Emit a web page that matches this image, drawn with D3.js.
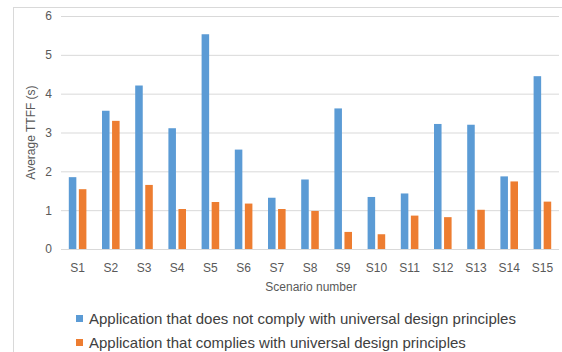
<!DOCTYPE html>
<html>
<head>
<meta charset="utf-8">
<script src="https://cdn.jsdelivr.net/npm/d3@7"></script>
<style>
  body { margin: 0; background: #fff; }
  svg { display: block; font-family: "Liberation Sans", "DejaVu Sans", sans-serif; }
  .tick text { fill: #595959; font-size: 12px; }
</style>
</head>
<body>
<div id="chart"></div>
<script>
// scenarios and the two series (average TTFF in seconds)
const scenarios = ["S1", "S2", "S3", "S4", "S5", "S6", "S7", "S8", "S9", "S10", "S11", "S12", "S13", "S14", "S15"];
const seriesNames = [
    "Application that does not comply with universal design principles",
    "Application that complies with universal design principles"
];
const notComply = [1.85, 3.56, 4.21, 3.11, 5.53, 2.56, 1.32, 1.79, 3.62, 1.34, 1.43, 3.22, 3.20, 1.87, 4.45];
const comply = [1.54, 3.30, 1.65, 1.03, 1.21, 1.17, 1.03, 0.98, 0.44, 0.38, 0.86, 0.82, 1.01, 1.74, 1.22];
const yTicks = [0, 1, 2, 3, 4, 5, 6];
const colors = ["#5b9bd5", "#ed7d31"];

const W = 562, H = 352;
const margins = { top: 16, right: 3, bottom: 103, left: 61 };
const width = W - margins.left - margins.right;
const height = H - margins.top - margins.bottom;

const data = scenarios.map((s, i) => ({ scenario: s, values: [notComply[i], comply[i]] }));

const svg = d3.select("#chart").append("svg")
    .attr("width", W)
    .attr("height", H);

// chart frame (cut off at right/bottom like the reference)
svg.append("rect")
    .attr("x", 13.5).attr("y", 7.5)
    .attr("width", 700).attr("height", 500)
    .attr("fill", "none")
    .attr("stroke", "#d9d9d9");

const g = svg.append("g")
    .attr("transform", `translate(${margins.left}, ${margins.top})`);

const xScale = d3.scaleBand().domain(scenarios).range([0, width]).paddingInner(0.47).paddingOuter(0.235);
const xSub = d3.scaleBand().domain([0, 1]).range([0, xScale.bandwidth()]).paddingInner(0.25);
const yScale = d3.scaleLinear().domain([0, 6]).range([height, 0]);

// gridlines + y labels
g.append("g")
    .attr("class", "y-axis")
    .call(d3.axisLeft(yScale).tickValues(yTicks).tickSize(-width).tickPadding(9).tickFormat(d3.format("d")))
    .call(a => a.select(".domain").remove())
    .call(a => a.selectAll("line").attr("stroke", "#d9d9d9"));

// x labels
g.append("g")
    .attr("class", "x-axis")
    .attr("transform", `translate(0, ${height})`)
    .call(d3.axisBottom(xScale).tickSize(0).tickPadding(14))
    .call(a => a.select(".domain").remove());

// bars
const groups = g.selectAll("g.group")
    .data(data)
    .enter().append("g")
    .attr("class", "group")
    .attr("transform", d => `translate(${xScale(d.scenario)}, 0)`);

groups.selectAll("rect")
    .data(d => d.values.map((v, i) => ({ i: i, v: v })))
    .enter().append("rect")
    .attr("x", d => xSub(d.i))
    .attr("y", d => yScale(d.v))
    .attr("width", xSub.bandwidth())
    .attr("height", d => height - yScale(d.v))
    .attr("fill", d => colors[d.i]);

// axis titles
svg.append("text")
    .attr("transform", `translate(35, ${margins.top + height / 2}) rotate(-90)`)
    .attr("text-anchor", "middle")
    .attr("fill", "#595959")
    .style("font-size", "12px")
    .text("Average TTFF (s)");

svg.append("text")
    .attr("x", margins.left + width / 2 + 1)
    .attr("y", 291)
    .attr("text-anchor", "middle")
    .attr("fill", "#595959")
    .style("font-size", "12px")
    .text("Scenario number");

// legend
const legend = svg.selectAll("g.legend")
    .data(seriesNames)
    .enter().append("g")
    .attr("class", "legend")
    .attr("transform", (d, i) => `translate(76, ${315 + i * 24})`);

legend.append("rect")
    .attr("width", 7).attr("height", 7)
    .attr("fill", (d, i) => colors[i]);

legend.append("text")
    .attr("x", 13)
    .attr("y", 9)
    .attr("fill", "#404040")
    .style("font-size", "15px")
    .text(d => d);
</script>
</body>
</html>
